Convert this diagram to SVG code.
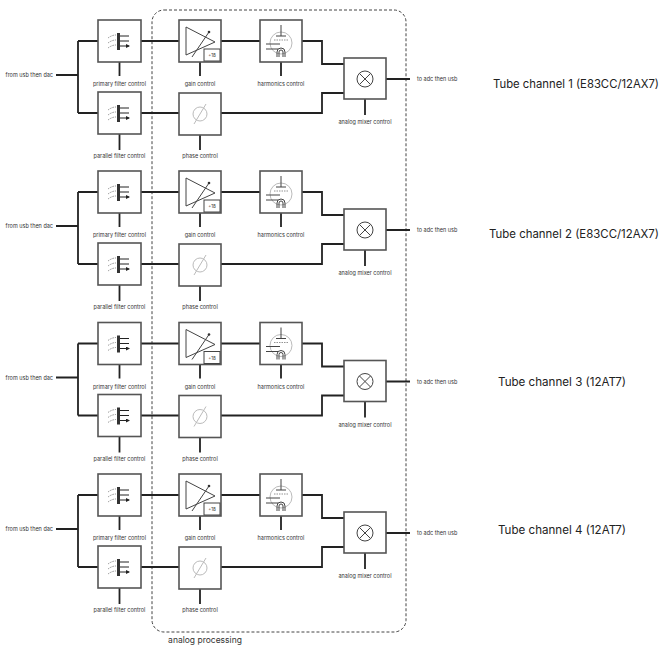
<svg xmlns="http://www.w3.org/2000/svg" xmlns:xlink="http://www.w3.org/1999/xlink" width="669" height="647" viewBox="0 0 669 647">
<style>
.box{fill:#fff;stroke:#555;stroke-width:1.6}
.w{fill:none;stroke:#222;stroke-width:1.8}
.ic{fill:none;stroke:#444;stroke-width:1}
.lt{fill:none;stroke:#bbb;stroke-width:1}
.s{font-family:Inter,"Liberation Sans",sans-serif;font-size:5.5px;fill:#333}
.t{font-family:Inter,"Liberation Sans",sans-serif;font-size:11.5px;fill:#222}
.m{text-anchor:middle}
</style>
<defs>
<marker id="ah" markerWidth="4" markerHeight="4" refX="3" refY="2" orient="auto" markerUnits="userSpaceOnUse"><path d="M0,0L4,2L0,4z" fill="#222"/></marker>
<g id="filt">
<rect x="-2" y="-8" width="3" height="17" fill="#333"/>
<path d="M1,-5H10M1,0H10M1,5H10" stroke="#222" stroke-width="1" marker-end="url(#ah)"/>
<path d="M-11,-3Q-7,-6 -3,-6M-11,2Q-7,-1 -3,-1M-11,7Q-7,4 -3,4" fill="none" stroke="#666" stroke-width="0.7" stroke-dasharray="1.5,1"/>
</g>
<g id="amp">
<path d="M-14,-14V14L15,1z" class="ic"/>
<path d="M-8,16L9,-9" class="ic"/><circle cx="9" cy="-9" r="1.3" fill="#333"/>
<rect x="4" y="8" width="16" height="12" fill="#fff" stroke="#444" stroke-width="1"/>
<text x="12" y="16" class="s m" style="font-size:4.5px">+18</text>
</g>
<g id="tube">
<circle cx="0" cy="2" r="11" class="lt"/>
<path d="M0,-16V-5M-5,-5H5" stroke="#444" stroke-width="1"/>
<path d="M-7,-1H7" stroke="#777" stroke-width="0.8" stroke-dasharray="1.5,1"/>
<path d="M-15,3H-1M-15,8H-3" stroke="#444" stroke-width="1"/>
<path d="M-4,16V11A4,4 0 0 1 4,11V16M-2,16V11A2,2 0 0 1 2,11V16" class="ic" stroke-width="0.8"/>
</g>
<g id="mix"><circle r="8" class="ic" stroke-width="1.2"/><path d="M-5.6,-5.6L5.6,5.6M-5.6,5.6L5.6,-5.6" class="ic" stroke-width="1.2"/></g>
<g id="phs"><circle r="7" class="lt"/><path d="M-6,10L6,-10" class="lt"/></g>
</defs>
<rect x="152" y="10" width="254" height="622" rx="12" fill="none" stroke="#444" stroke-width="1" stroke-dasharray="3,2"/>
<text x="205" y="643" class="s m" style="font-size:8.5px">analog processing</text>

<g id="connectors">
<g transform="translate(0,0)"><path class="w" d="M56,75H78M78,41V113M78,41H98M78,113H98M141,41H179M221,41H260M302,41H322V64H344M141,113H179M221,113H322V93H344M386,79H410M119.5,62V76M119.5,134V150M200,62V76M281,62V76M200,135V150M365,99V115"/></g>
<g transform="translate(0,151)"><path class="w" d="M56,75H78M78,41V113M78,41H98M78,113H98M141,41H179M221,41H260M302,41H322V64H344M141,113H179M221,113H322V93H344M386,79H410M119.5,62V76M119.5,134V150M200,62V76M281,62V76M200,135V150M365,99V115"/></g>
<g transform="translate(0,302.5)"><path class="w" d="M56,75H78M78,41V113M78,41H98M78,113H98M141,41H179M221,41H260M302,41H322V64H344M141,113H179M221,113H322V93H344M386,79H410M119.5,62V76M119.5,134V150M200,62V76M281,62V76M200,135V150M365,99V115"/></g>
<g transform="translate(0,454)"><path class="w" d="M56,75H78M78,41V113M78,41H98M78,113H98M141,41H179M221,41H260M302,41H322V64H344M141,113H179M221,113H322V93H344M386,79H410M119.5,62V76M119.5,134V150M200,62V76M281,62V76M200,135V150M365,99V115"/></g>
</g>

<g transform="translate(0,0)">
<text x="53" y="77" class="s" text-anchor="end">from usb then dac</text>
<text x="417" y="81" class="s">to adc then usb</text>
<text x="493" y="88" class="t" textLength="166" lengthAdjust="spacingAndGlyphs">Tube channel 1 (E83CC/12AX7)</text>
<g id="pf1"><rect x="98" y="20" width="43" height="42" class="box"/><use href="#filt" x="119" y="41"/><text x="119.5" y="86" class="s m">primary filter control</text></g>
<g id="qf1"><rect x="98" y="92" width="43" height="42" class="box"/><use href="#filt" x="119" y="113"/><text x="119.5" y="158" class="s m">parallel filter control</text></g>
<g id="gain1"><rect x="179" y="20" width="42" height="42" class="box"/><use href="#amp" x="200" y="41"/><text x="200" y="86" class="s m">gain control</text></g>
<g id="harm1"><rect x="260" y="20" width="42" height="42" class="box"/><use href="#tube" x="281" y="41"/><text x="281" y="86" class="s m">harmonics control</text></g>
<g id="phase1"><rect x="179" y="93" width="42" height="42" class="box"/><use href="#phs" x="200" y="114"/><text x="200" y="158" class="s m">phase control</text></g>
<g id="mix1"><rect x="344" y="58" width="42" height="41" class="box"/><use href="#mix" x="365" y="79"/><text x="365" y="124" class="s m">analog mixer control</text></g>
</g>
<g transform="translate(0,151)">
<text x="53" y="77" class="s" text-anchor="end">from usb then dac</text>
<text x="417" y="81" class="s">to adc then usb</text>
<text x="489" y="87" class="t" textLength="170" lengthAdjust="spacingAndGlyphs">Tube channel 2 (E83CC/12AX7)</text>
<g id="pf2"><rect x="98" y="20" width="43" height="42" class="box"/><use href="#filt" x="119" y="41"/><text x="119.5" y="86" class="s m">primary filter control</text></g>
<g id="qf2"><rect x="98" y="92" width="43" height="42" class="box"/><use href="#filt" x="119" y="113"/><text x="119.5" y="158" class="s m">parallel filter control</text></g>
<g id="gain2"><rect x="179" y="20" width="42" height="42" class="box"/><use href="#amp" x="200" y="41"/><text x="200" y="86" class="s m">gain control</text></g>
<g id="harm2"><rect x="260" y="20" width="42" height="42" class="box"/><use href="#tube" x="281" y="41"/><text x="281" y="86" class="s m">harmonics control</text></g>
<g id="phase2"><rect x="179" y="93" width="42" height="42" class="box"/><use href="#phs" x="200" y="114"/><text x="200" y="158" class="s m">phase control</text></g>
<g id="mix2"><rect x="344" y="58" width="42" height="41" class="box"/><use href="#mix" x="365" y="79"/><text x="365" y="124" class="s m">analog mixer control</text></g>
</g>
<g transform="translate(0,302.5)">
<text x="53" y="77" class="s" text-anchor="end">from usb then dac</text>
<text x="417" y="81" class="s">to adc then usb</text>
<text x="498" y="83" class="t" textLength="128" lengthAdjust="spacingAndGlyphs">Tube channel 3 (12AT7)</text>
<g id="pf3"><rect x="98" y="20" width="43" height="42" class="box"/><use href="#filt" x="119" y="41"/><text x="119.5" y="86" class="s m">primary filter control</text></g>
<g id="qf3"><rect x="98" y="92" width="43" height="42" class="box"/><use href="#filt" x="119" y="113"/><text x="119.5" y="158" class="s m">parallel filter control</text></g>
<g id="gain3"><rect x="179" y="20" width="42" height="42" class="box"/><use href="#amp" x="200" y="41"/><text x="200" y="86" class="s m">gain control</text></g>
<g id="harm3"><rect x="260" y="20" width="42" height="42" class="box"/><use href="#tube" x="281" y="41"/><text x="281" y="86" class="s m">harmonics control</text></g>
<g id="phase3"><rect x="179" y="93" width="42" height="42" class="box"/><use href="#phs" x="200" y="114"/><text x="200" y="158" class="s m">phase control</text></g>
<g id="mix3"><rect x="344" y="58" width="42" height="41" class="box"/><use href="#mix" x="365" y="79"/><text x="365" y="124" class="s m">analog mixer control</text></g>
</g>
<g transform="translate(0,454)">
<text x="53" y="77" class="s" text-anchor="end">from usb then dac</text>
<text x="417" y="81" class="s">to adc then usb</text>
<text x="498" y="80" class="t" textLength="128" lengthAdjust="spacingAndGlyphs">Tube channel 4 (12AT7)</text>
<g id="pf4"><rect x="98" y="20" width="43" height="42" class="box"/><use href="#filt" x="119" y="41"/><text x="119.5" y="86" class="s m">primary filter control</text></g>
<g id="qf4"><rect x="98" y="92" width="43" height="42" class="box"/><use href="#filt" x="119" y="113"/><text x="119.5" y="158" class="s m">parallel filter control</text></g>
<g id="gain4"><rect x="179" y="20" width="42" height="42" class="box"/><use href="#amp" x="200" y="41"/><text x="200" y="86" class="s m">gain control</text></g>
<g id="harm4"><rect x="260" y="20" width="42" height="42" class="box"/><use href="#tube" x="281" y="41"/><text x="281" y="86" class="s m">harmonics control</text></g>
<g id="phase4"><rect x="179" y="93" width="42" height="42" class="box"/><use href="#phs" x="200" y="114"/><text x="200" y="158" class="s m">phase control</text></g>
<g id="mix4"><rect x="344" y="58" width="42" height="41" class="box"/><use href="#mix" x="365" y="79"/><text x="365" y="124" class="s m">analog mixer control</text></g>
</g>
</svg>
